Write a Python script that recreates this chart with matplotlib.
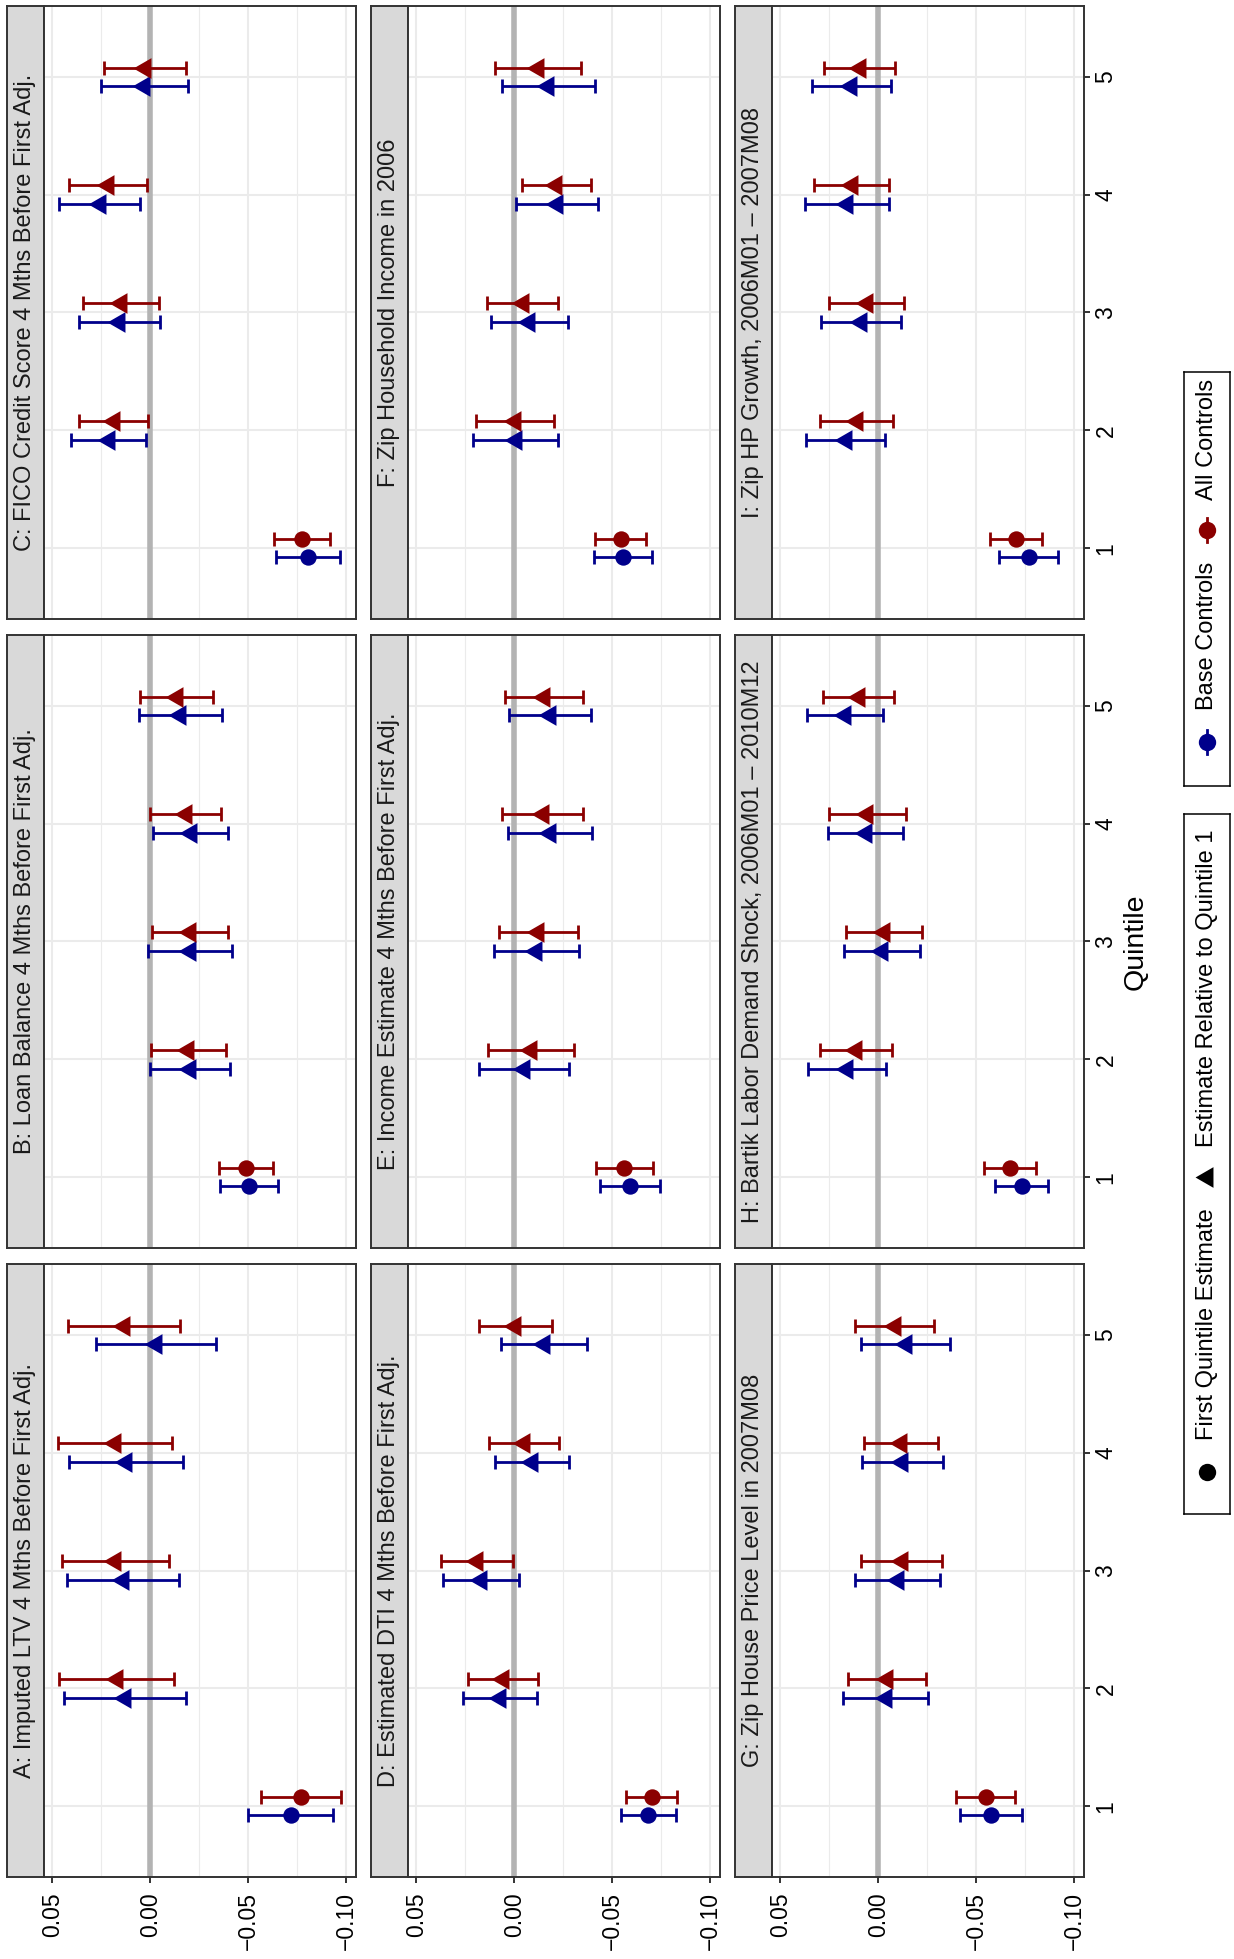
import matplotlib.pyplot as plt

plt.rcParams['font.family'] = ['Liberation Sans', 'DejaVu Sans']

# ---- data ----
quintiles = [1, 2, 3, 4, 5]
value_ticks = [0.05, 0.0, -0.05, -0.10]
value_tick_labels = ['0.05', '0.00', '\u22120.05', '\u22120.10']
value_minor = [0.025, -0.025, -0.075]

panel_titles = [
    "A: Imputed LTV 4 Mths Before First Adj.",
    "B: Loan Balance 4 Mths Before First Adj.",
    "C: FICO Credit Score 4 Mths Before First Adj.",
    "D: Estimated DTI 4 Mths Before First Adj.",
    "E: Income Estimate 4 Mths Before First Adj.",
    "F: Zip Household Income in 2006",
    "G: Zip House Price Level in 2007M08",
    "H: Bartik Labor Demand Shock, 2006M01 \u2013 2010M12",
    "I: Zip HP Growth, 2006M01 \u2013 2007M08",
]

# Base Controls: estimate and half width of the interval, quintiles 1..5
base_est = [
    [-0.0716, 0.0130, 0.0140, 0.0125, -0.0027],
    [-0.0504, -0.0203, -0.0203, -0.0206, -0.0153],
    [-0.0807, 0.0212, 0.0158, 0.0258, 0.0031],
    [-0.0684, 0.0073, 0.0169, -0.0091, -0.0150],
    [-0.0590, -0.0051, -0.0113, -0.0182, -0.0182],
    [-0.0554, -0.0006, -0.0077, -0.0219, -0.0174],
    [-0.0574, -0.0037, -0.0098, -0.0123, -0.0139],
    [-0.0733, 0.0161, -0.0019, 0.0065, 0.0170],
    [-0.0767, 0.0167, 0.0087, 0.0161, 0.0138],
]
base_err = [
    [0.0216, 0.0311, 0.0287, 0.0291, 0.0307],
    [0.0148, 0.0205, 0.0215, 0.0192, 0.0213],
    [0.0163, 0.0192, 0.0205, 0.0207, 0.0223],
    [0.0141, 0.0189, 0.0195, 0.0190, 0.0220],
    [0.0155, 0.0230, 0.0219, 0.0213, 0.0208],
    [0.0148, 0.0215, 0.0198, 0.0210, 0.0239],
    [0.0158, 0.0219, 0.0219, 0.0206, 0.0226],
    [0.0135, 0.0199, 0.0195, 0.0193, 0.0194],
    [0.0150, 0.0202, 0.0205, 0.0213, 0.0201],
]
# All Controls
all_est = [
    [-0.0771, 0.0171, 0.0178, 0.0181, 0.0136],
    [-0.0487, -0.0194, -0.0203, -0.0180, -0.0134],
    [-0.0775, 0.0188, 0.0150, 0.0215, 0.0027],
    [-0.0701, 0.0058, 0.0193, -0.0049, -0.0005],
    [-0.0562, -0.0084, -0.0123, -0.0144, -0.0151],
    [-0.0543, -0.0002, -0.0042, -0.0215, -0.0121],
    [-0.0549, -0.0044, -0.0120, -0.0116, -0.0084],
    [-0.0672, 0.0115, -0.0029, 0.0056, 0.0101],
    [-0.0702, 0.0111, 0.0060, 0.0137, 0.0096],
]
all_err = [
    [0.0204, 0.0293, 0.0275, 0.0291, 0.0285],
    [0.0139, 0.0191, 0.0193, 0.0183, 0.0185],
    [0.0144, 0.0176, 0.0194, 0.0198, 0.0208],
    [0.0132, 0.0181, 0.0184, 0.0179, 0.0187],
    [0.0146, 0.0219, 0.0200, 0.0209, 0.0199],
    [0.0130, 0.0198, 0.0181, 0.0178, 0.0221],
    [0.0150, 0.0200, 0.0207, 0.0191, 0.0202],
    [0.0132, 0.0185, 0.0196, 0.0196, 0.0183],
    [0.0134, 0.0186, 0.0193, 0.0190, 0.0180],
]

BLUE = '#00008B'
RED = '#8B0000'
DODGE = 0.078
# left pointing triangle (the plot is turned on its side)
TRI = [(-1.0, 0.0), (0.5, 0.866), (0.5, -0.866)]

W, H = 1234, 1959
fig = plt.figure(figsize=(W / 100, H / 100), dpi=100)


def px_axes(x, y, w, h, **kw):
    return fig.add_axes([x / W, 1 - (y + h) / H, w / W, h / H], **kw)


col_left = [7, 371, 735]
row_top = [6, 635, 1264]
strip_w, plot_w, panel_h = 37, 312, 613

for i, title in enumerate(panel_titles):
    c = i // 3
    r = 2 - i % 3
    x0, y0 = col_left[c], row_top[r]

    # strip on the left side
    sax = px_axes(x0, y0, strip_w, panel_h, facecolor='#D9D9D9')
    sax.set_xticks([])
    sax.set_yticks([])
    for s in sax.spines.values():
        s.set_color('#333333')
        s.set_linewidth(1.4)
    sax.text(0.5, 0.5, title, rotation=90, ha='center', va='center',
             fontsize=17, color='#1A1A1A', transform=sax.transAxes)

    ax = px_axes(x0 + strip_w, y0, plot_w, panel_h)
    ax.set_xlim(0.0543, -0.105)
    ax.set_ylim(0.4, 5.6)
    ax.set_xticks(value_ticks)
    ax.set_xticks(value_minor, minor=True)
    ax.set_yticks(quintiles)
    ax.grid(which='major', color='#EBEBEB', lw=1.5, zorder=0)
    ax.grid(which='minor', axis='x', color='#EBEBEB', lw=0.8, zorder=0)
    ax.set_axisbelow(True)
    for s in ax.spines.values():
        s.set_color('#333333')
        s.set_linewidth(1.4)
    ax.tick_params(which='minor', length=0)

    ax.axvline(0, color='#B3B3B3', lw=4, zorder=1)

    groups = [(base_est[i], base_err[i], BLUE, -DODGE),
              (all_est[i], all_err[i], RED, DODGE)]
    for est, err, col, off in groups:
        yy = [q + off for q in quintiles]
        ax.errorbar(est, yy, xerr=err, fmt='none', ecolor=col,
                    elinewidth=2.0, capsize=5, capthick=2.0, zorder=3)
        ax.plot(est[:1], yy[:1], ls='none', marker='o', color=col,
                ms=11.8, mew=0, zorder=4)
        ax.plot(est[1:], yy[1:], ls='none', marker=TRI, color=col,
                ms=17.2, mew=0, zorder=4)

    if r == 2:
        ax.set_xticklabels(value_tick_labels)
        ax.tick_params(axis='x', which='major', length=4.5, width=1.4,
                       color='#333333', labelsize=16.5, labelrotation=90,
                       pad=6.5, labelcolor='black')
    else:
        ax.tick_params(axis='x', which='major', length=0, labelbottom=False)

    ax.yaxis.tick_right()
    if c == 2:
        ax.set_yticklabels([str(q) for q in quintiles])
        ax.tick_params(axis='y', length=4.5, width=1.4, color='#333333',
                       labelsize=16.5, labelrotation=90, pad=3,
                       labelcolor='black')
        for lab in ax.get_yticklabels():
            lab.set_va('center')
    else:
        ax.tick_params(axis='y', length=0, labelright=False)

fig.text(1136 / W, 1 - 942 / H, 'Quintile', rotation=90, ha='center',
         va='center', fontsize=20.5)

# ---- legends (drawn by hand, turned like the rest) ----
lax1 = px_axes(1184, 372, 46, 414)
lax1.set_xlim(0, 46)
lax1.set_ylim(414, 0)
lax1.set_xticks([])
lax1.set_yticks([])
for s in lax1.spines.values():
    s.set_linewidth(1.1)
for key_y, text_y, col, lab in [(370, 338, BLUE, 'Base Controls'),
                                 (158, 128, RED, 'All Controls')]:
    lax1.plot([23, 23], [key_y - 12, key_y + 12], color=col, lw=2.0)
    lax1.plot(23, key_y, marker='o', color=col, ms=12.5, mew=0)
    lax1.text(23, text_y, lab, rotation=90, ha='center', va='bottom',
              fontsize=17)

lax2 = px_axes(1184, 814, 46, 700)
lax2.set_xlim(0, 46)
lax2.set_ylim(700, 0)
lax2.set_xticks([])
lax2.set_yticks([])
for s in lax2.spines.values():
    s.set_linewidth(1.1)
lax2.plot(23, 658, marker='o', color='black', ms=12.5, mew=0)
lax2.text(23, 626, 'First Quintile Estimate', rotation=90, ha='center',
          va='bottom', fontsize=17)
lax2.plot(23, 363, marker=TRI, color='black', ms=17.2, mew=0)
lax2.text(23, 333, 'Estimate Relative to Quintile 1', rotation=90,
          ha='center', va='bottom', fontsize=17)

fig.savefig('out.png', dpi=100)
